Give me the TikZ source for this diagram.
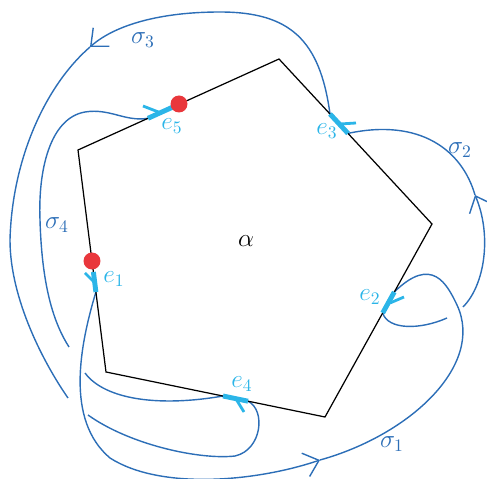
\documentclass[tikz,border=0pt]{standalone}
\usepackage{xcolor}
\usepackage{tikz}
\usetikzlibrary{arrows.meta}
\definecolor{curveblue}{RGB}{44,110,183}
\definecolor{edgecyan}{RGB}{43,181,232}
\definecolor{dotred}{RGB}{233,55,60}

\begin{document}
\begin{tikzpicture}[x=0.02cm, y=-0.02cm,
    poly/.style={black, line width=0.7pt},
    strand/.style={curveblue, line width=0.8pt},
    headed/.style={-{Straight Barb[length=8pt, width=14pt]}},
    segmark/.style={edgecyan, line width=2.8pt},
    barb/.style={edgecyan, line width=1.6pt},
    elabel/.style={text=edgecyan, font=\Large},
    slabel/.style={text=curveblue, font=\Large}]
    \useasboundingbox (0,0) rectangle (487,479);

    % Pentagon
    \coordinate (v1) at (279,59);
    \coordinate (v2) at (432,224);
    \coordinate (v3) at (325,417);
    \coordinate (v4) at (106,372);
    \coordinate (v5) at (78,150);

    % Ends of the marked edges
    \coordinate (e1a) at (93.4,272);  \coordinate (e1b) at (95.9,292);
    \coordinate (e2a) at (394.3,292); \coordinate (e2b) at (382.7,313);
    \coordinate (e3a) at (330,114);   \coordinate (e3b) at (348,133.4);
    \coordinate (e4a) at (223,396);   \coordinate (e4b) at (248,401.2);
    \coordinate (e5a) at (148,118.3); \coordinate (e5b) at (173,107);

    % Arrow points and crossing gaps
    \coordinate (s1tip) at (320,460);
    \coordinate (s2in) at (447,318);  \coordinate (s2out) at (463,307);
    \coordinate (s2tip) at (475,195);
    \coordinate (s3tip) at (90,47);
    \coordinate (s3in) at (68,398);   \coordinate (s3out) at (88,415);
    \coordinate (s4in) at (69,347);   \coordinate (s4out) at (85,373);

    % sigma_1
    \draw[strand, headed] (e1b) .. controls (80,345) and (65,420) .. (110,458)
        .. controls (160,490) and (255,482) .. (s1tip);
    \draw[strand] (s1tip) .. controls (410,435) and (485,365) .. (457,305)
        .. controls (447,284) and (432,255) .. (e2a);

    % sigma_2
    \draw[strand] (e2b) .. controls (388,330) and (420,330) .. (s2in);
    \draw[strand, headed] (s2out) .. controls (485,285) and (492,235) .. (s2tip);
    \draw[strand] (s2tip) .. controls (462,150) and (420,118) .. (e3b);

    % sigma_3
    \draw[strand, headed] (e3a) .. controls (320,40) and (290,12) .. (220,12)
        .. controls (160,12) and (115,25) .. (s3tip);
    \draw[strand] (s3tip) .. controls (45,86) and (12,160) .. (10,240)
        .. controls (10,300) and (45,365) .. (s3in);
    \draw[strand] (s3out) .. controls (130,445) and (200,460) .. (235,456)
        .. controls (262,450) and (266,410) .. (e4b);

    % sigma_4
    \draw[strand] (e4a) .. controls (160,407) and (105,400) .. (s4out);
    \draw[strand] (s4in) .. controls (55,325) and (42,290) .. (40,220)
        .. controls (38,170) and (50,118) .. (85,112)
        .. controls (110,108) and (125,122) .. (e5a);

    \draw[poly] (v1) -- (v2) -- (v3) -- (v4) -- (v5) -- cycle;

    % Edge marks
    \draw[segmark] (e1a) -- (e1b);
    \draw[barb] (85,273) -- (94,282);
    \draw[segmark] (e2a) -- (e2b);
    \draw[barb] (390,303) -- (404,297);
    \draw[segmark] (e3a) -- (e3b);
    \draw[barb] (340,124) -- (356,123);
    \draw[segmark] (e4a) -- (e4b);
    \draw[barb] (236,399) -- (244,412);
    \draw[segmark] (e5a) -- (e5b);
    \draw[barb] (143,106) -- (161,113);

    % Base points
    \coordinate (dot1) at (92,261);
    \coordinate (dot5) at (179,104);
    \fill[dotred] (dot1) circle (0.17cm);
    \fill[dotred] (dot5) circle (0.17cm);

    % Labels
    \node (alpha) at (246,241) {\Large$\alpha$};
    \node[elabel] (lab-e1) at (114,279) {$e_1$};
    \node[elabel] (lab-e2) at (370,297) {$e_2$};
    \node[elabel] (lab-e3) at (327,131) {$e_3$};
    \node[elabel] (lab-e4) at (242,384) {$e_4$};
    \node[elabel] (lab-e5) at (172,126) {$e_5$};
    \node[slabel] (lab-s1) at (392,444) {$\sigma_1$};
    \node[slabel] (lab-s2) at (460,150) {$\sigma_2$};
    \node[slabel] (lab-s3) at (143,40) {$\sigma_3$};
    \node[slabel] (lab-s4) at (57,225) {$\sigma_4$};
\end{tikzpicture}
\end{document}
